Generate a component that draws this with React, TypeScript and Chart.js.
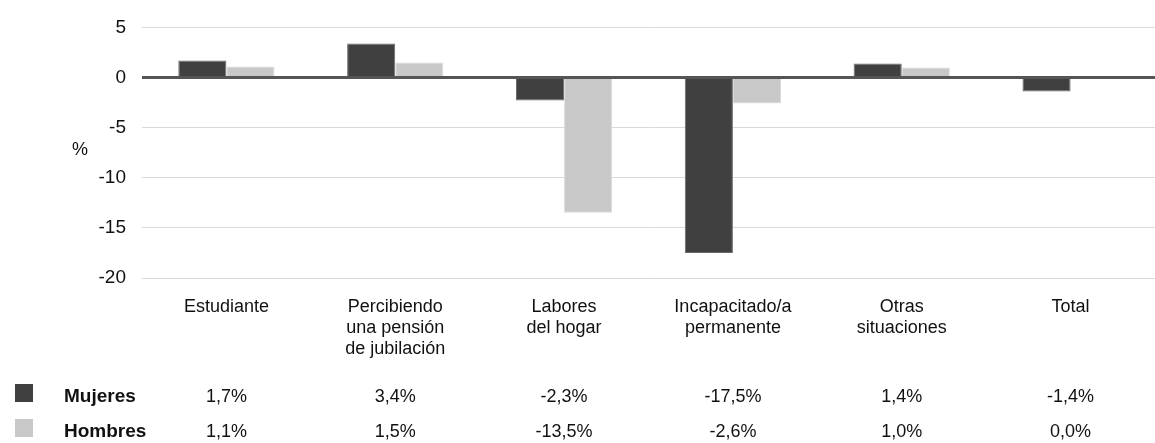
import React, { useEffect, useRef } from "react";
import { Chart, registerables } from "chart.js";

Chart.register(...registerables);

const categories: string[][] = [
  ["Estudiante"],
  ["Percibiendo", "una pensión", "de jubilación"],
  ["Labores", "del hogar"],
  ["Incapacitado/a", "permanente"],
  ["Otras", "situaciones"],
  ["Total"],
];
const mujeres: number[] = [1.7, 3.4, -2.3, -17.5, 1.4, -1.4];
const hombres: number[] = [1.1, 1.5, -13.5, -2.6, 1.0, 0.0];
const seriesNames: string[] = ["Mujeres", "Hombres"];
const yMin = -20;
const yMax = 5;
const yStep = 5;
const yUnit = "%";

const DARK = "#404040";
const LIGHT = "#c8c8c8";
const FONT = "'Liberation Sans', Arial, sans-serif";

const fmt = (v: number) => `${v.toFixed(1).replace(".", ",")}%`;

export default function App() {
  const ref = useRef<HTMLCanvasElement | null>(null);

  useEffect(() => {
    const canvas = ref.current;
    if (!canvas) return;

    const overlay = {
      id: "overlay",
      afterDatasetsDraw(chart: any) {
        const { ctx, chartArea, scales } = chart;
        const y0 = scales.y.getPixelForValue(0);
        ctx.save();
        ctx.strokeStyle = "#555555";
        ctx.lineWidth = 3;
        ctx.beginPath();
        ctx.moveTo(chartArea.left, y0);
        ctx.lineTo(chartArea.right, y0);
        ctx.stroke();
        ctx.restore();
      },
      afterDraw(chart: any) {
        const { ctx, scales } = chart;
        const x = scales.x;
        ctx.save();
        ctx.fillStyle = "#111";
        ctx.font = `18px ${FONT}`;
        ctx.textAlign = "center";
        ctx.textBaseline = "middle";
        ctx.fillText(yUnit, 80, 150);
        const rows = [
          { name: seriesNames[0], vals: mujeres, color: DARK, y: 397 },
          { name: seriesNames[1], vals: hombres, color: LIGHT, y: 432 },
        ];
        rows.forEach((r) => {
          ctx.fillStyle = r.color;
          ctx.fillRect(15, r.y - 13, 18, 18);
          ctx.fillStyle = "#111";
          ctx.font = `bold 19px ${FONT}`;
          ctx.textAlign = "left";
          ctx.textBaseline = "middle";
          ctx.fillText(r.name, 64, r.y);
          ctx.font = `18px ${FONT}`;
          ctx.textAlign = "center";
          r.vals.forEach((v, i) => {
            ctx.fillText(fmt(v), x.getPixelForValue(i), r.y);
          });
        });
        ctx.restore();
      },
    };

    const chart = new Chart(canvas, {
      type: "bar",
      data: {
        labels: categories as any,
        datasets: [
          {
            label: seriesNames[0],
            data: mujeres,
            backgroundColor: DARK,
            borderColor: "#6a6a6a",
            borderWidth: 1,
            categoryPercentage: 0.57,
            barPercentage: 1,
          },
          {
            label: seriesNames[1],
            data: hombres,
            backgroundColor: LIGHT,
            borderColor: "#dadada",
            borderWidth: 1,
            categoryPercentage: 0.57,
            barPercentage: 1,
          },
        ],
      },
      options: {
        animation: false,
        responsive: false,
        maintainAspectRatio: false,
        layout: { padding: { top: 26, left: 0, right: 0, bottom: 0 } },
        plugins: {
          legend: { display: false },
          tooltip: { enabled: false },
          title: { display: false },
        },
        scales: {
          x: {
            grid: { display: false, drawTicks: false },
            border: { display: false },
            ticks: {
              color: "#111",
              font: { family: FONT, size: 18, lineHeight: 1.15 },
              padding: 19,
              maxRotation: 0,
              autoSkip: false,
            },
            afterFit: (s: any) => {
              s.height = 165;
            },
          },
          y: {
            min: yMin,
            max: yMax,
            grid: { color: "#d9d9d9", lineWidth: 1, drawTicks: false },
            border: { display: false },
            ticks: {
              stepSize: yStep,
              color: "#111",
              font: { family: FONT, size: 19 },
              padding: 16,
            },
            afterFit: (s: any) => {
              s.width = 142;
            },
          },
        },
      },
      plugins: [overlay],
    } as any);

    return () => chart.destroy();
  }, []);

  return (
    <div style={{ position: "absolute", left: 0, top: 0, width: 1155, height: 443, background: "#fff" }}>
      <canvas ref={ref} width={1155} height={443} style={{ width: 1155, height: 443, display: "block" }} />
    </div>
  );
}
